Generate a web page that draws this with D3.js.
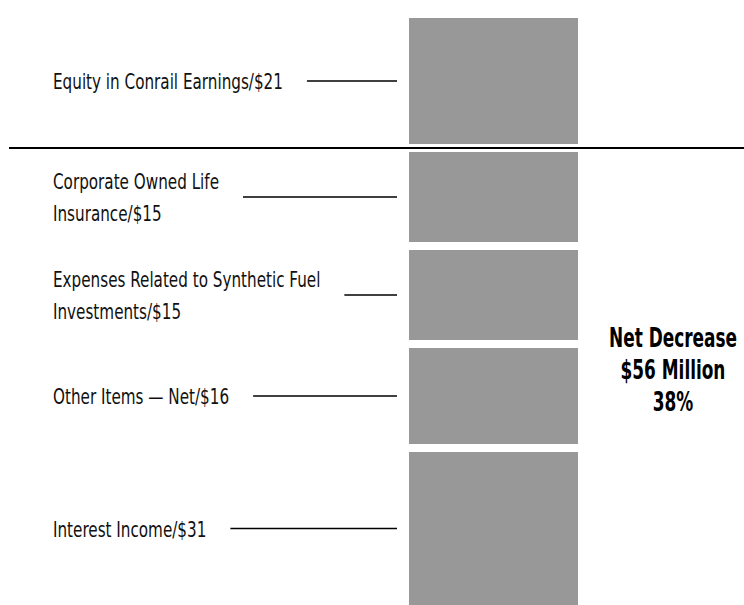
<!DOCTYPE html>
<html>
<head>
<meta charset="utf-8">
<script src="https://cdn.jsdelivr.net/npm/d3@7"></script>
<style>
  body { margin: 0; background: #fff; }
  svg { display: block; }
  .lbl { font-family: "DejaVu Sans Condensed", sans-serif; font-size: 22px; fill: #111; }
  .net { font-family: "DejaVu Sans Condensed", sans-serif; font-size: 27px; font-weight: bold; fill: #000; }
</style>
</head>
<body>
<div id="chart"></div>
<script>
// data: items making up the change, $ millions
var items = ["Equity in Conrail Earnings", "Corporate Owned Life Insurance",
             "Expenses Related to Synthetic Fuel Investments", "Other Items \u2014 Net", "Interest Income"];
var values = [21, 15, 15, 16, 31];
var kinds = ["increase", "decrease", "decrease", "decrease", "decrease"];
// label text as it wraps in the original
var labelLines = [
  ["Equity in Conrail Earnings/$21"],
  ["Corporate Owned Life", "Insurance/$15"],
  ["Expenses Related to Synthetic Fuel", "Investments/$15"],
  ["Other Items \u2014 Net/$16"],
  ["Interest Income/$31"]
];
var netLines = ["Net Decrease", "$56 Million", "38%"];

var width = 744, height = 605;
var gap = 8, divY = 148;
// the original face is a tall condensed one; squeeze to its widths
var labelWidth = 230, netWidth = 128;

var svg = d3.select("#chart").append("svg")
    .attr("width", width)
    .attr("height", height);

var x = d3.scaleBand()
    .domain(["change"])
    .range([409, 578]);

// $ -> pixels
var y = d3.scaleLinear()
    .domain([0, 10])
    .range([0, 60]);

// stack: increase goes up from the divider, decreases go down
var segs = [];
var down = divY + gap / 2;
items.forEach(function(name, i) {
  var h = y(values[i]);
  var s = {name: name, value: values[i], lines: labelLines[i]};
  if (kinds[i] === "increase") {
    s.y0 = divY - gap / 2 - h;
    s.y1 = divY - gap / 2;
  } else {
    s.y0 = down;
    s.y1 = down + h;
    down = s.y1 + gap;
  }
  s.mid = (s.y0 + Math.min(s.y1, height)) / 2;
  segs.push(s);
});

svg.selectAll("rect.seg")
    .data(segs)
  .enter().append("rect")
    .attr("class", "seg")
    .attr("x", x("change"))
    .attr("width", x.bandwidth())
    .attr("y", function(d) { return d.y0; })
    .attr("height", function(d) { return d.y1 - d.y0; })
    .attr("fill", "#989898");

// divider between increase and decreases
svg.append("line")
    .attr("x1", 9).attr("x2", width)
    .attr("y1", divY).attr("y2", divY)
    .attr("stroke", "#000")
    .attr("stroke-width", 2);

// measure natural width of the first label to get the squeeze
var probe = svg.append("text").attr("class", "lbl").text(labelLines[0][0]);
var squeeze = labelWidth / probe.node().getComputedTextLength();
probe.remove();

var lab = svg.selectAll("g.label")
    .data(segs)
  .enter().append("g")
    .attr("class", "label");

lab.each(function(d) {
  var g = d3.select(this);
  var n = d.lines.length;
  var first = d.mid - (16 + 33 * (n - 1)) / 2 + 16;
  var t = g.append("g")
      .attr("transform", "translate(53," + first + ") scale(" + squeeze + ",1)");
  d.lines.forEach(function(line, j) {
    t.append("text")
        .attr("class", "lbl")
        .attr("y", j * 33)
        .text(line);
  });
  var firstW = t.select("text").node().getComputedTextLength() * squeeze;
  g.append("line")
      .attr("x1", 53 + firstW + 24)
      .attr("x2", x("change") - 12)
      .attr("y1", d.mid).attr("y2", d.mid)
      .attr("stroke", "#000")
      .attr("stroke-width", 1.5);
});

var net = svg.append("g");
net.selectAll("text")
    .data(netLines)
  .enter().append("text")
    .attr("class", "net")
    .attr("text-anchor", "middle")
    .attr("y", function(d, i) { return i * 32; })
    .text(function(d) { return d; });
var netSqueeze = netWidth / net.select("text").node().getComputedTextLength();
net.attr("transform", "translate(673,347) scale(" + netSqueeze + ",1)");
</script>
</body>
</html>
